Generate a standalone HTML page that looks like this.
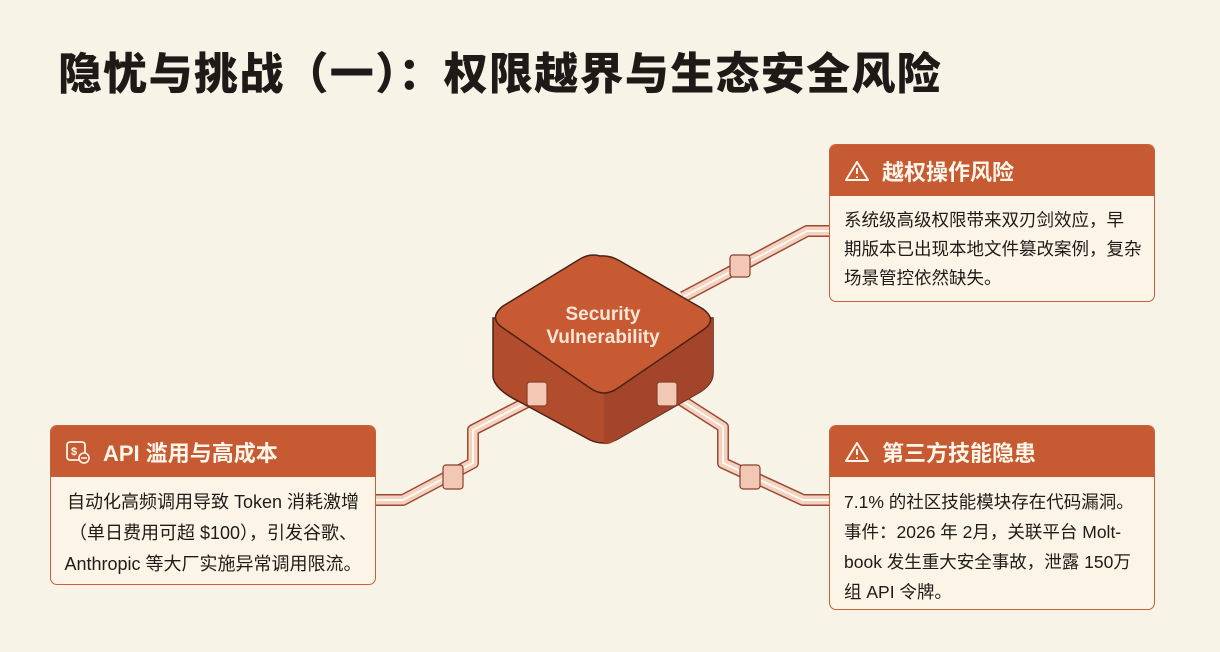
<!DOCTYPE html>
<html><head><meta charset="utf-8"><style>
body{margin:0;width:1220px;height:652px;background:#f8f3e7;overflow:hidden;font-family:"Liberation Sans","Noto Sans CJK SC",sans-serif;position:relative}
.t{position:absolute;left:58px;top:40px;font-size:44px;font-weight:900;color:#1d1a17;letter-spacing:1.3px;font-family:"Noto Sans CJK SC",sans-serif;line-height:60px;white-space:nowrap}
.box{position:absolute;border:1.5px solid #c9603a;border-radius:7px;background:#fbf4e7;overflow:hidden}
.hd{background:#c65a33;height:51px;color:#fff6ea;font-size:22px;font-weight:bold;display:flex;align-items:center;padding-left:14px;font-family:"Liberation Sans","Noto Sans CJK SC",sans-serif}
.hd svg{margin-right:12px}
.bd{font-size:17.5px;color:#1e1b18;padding:12px 0 0 14px;line-height:30px;font-family:"Liberation Sans","Noto Sans CJK SC",sans-serif;white-space:nowrap}
svg.m{position:absolute;left:0;top:0}
</style></head><body>
<div class="t">隐忧与挑战（一）：权限越界与生态安全风险</div>
<svg class="m" width="1220" height="652">
<g fill="none" stroke-linejoin="round">
<g stroke="#9c4a34" stroke-width="12">
<path d="M683 297 L807 231 L830 231"/>
<path d="M537 397 L473 430 L473 463 L403 500 L376 500"/>
<path d="M670 393 L723 427 L723 463 L803 500 L830 500"/>
</g>
<g stroke="#f4d2c0" stroke-width="9">
<path d="M683 297 L807 231 L830 231"/>
<path d="M537 397 L473 430 L473 463 L403 500 L376 500"/>
<path d="M670 393 L723 427 L723 463 L803 500 L830 500"/>
</g>
<g stroke="#fff8f0" stroke-width="2">
<path d="M683 297 L807 231 L830 231"/>
<path d="M537 397 L473 430 L473 463 L403 500 L376 500"/>
<path d="M670 393 L723 427 L723 463 L803 500 L830 500"/>
</g>
</g>
<path d="M493 318 L493 377 Q495 390 520 402 L590 440 Q603 446 616 440 L700 392 Q713 384 713 373 L713 318 Z" fill="#b14d2c" stroke="#4a2216" stroke-width="1.5"/>
<path d="M604 393 L604 444 Q610 445 616 440 L700 392 Q713 384 713 373 L713 318 Z" fill="#a4442a"/>
<path d="M600 256 Q590 253 580 259 L503 306 Q488 318 503 328 L590 388 Q604 398 618 388 L703 330 Q718 320 703 309 L620 261 Q610 255 600 256 Z" fill="#c85a33" stroke="#4a2216" stroke-width="1.5"/>
<text x="603" y="320" text-anchor="middle" font-size="19" font-weight="bold" fill="#fbe6d6" font-family="Liberation Sans,sans-serif">Security</text>
<text x="603" y="343" text-anchor="middle" font-size="19" font-weight="bold" fill="#fbe6d6" font-family="Liberation Sans,sans-serif">Vulnerability</text>
<g fill="#f2c8b4" stroke="#8a3f2c" stroke-width="1.2">
<rect x="527" y="382" width="20" height="24" rx="3"/>
<rect x="657" y="382" width="20" height="24" rx="3"/>
<rect x="730" y="255" width="20" height="22" rx="3"/>
<rect x="443" y="465" width="20" height="24" rx="3"/>
<rect x="740" y="465" width="20" height="24" rx="3"/>
</g>
</svg>
<div class="box" style="left:829px;top:144px;width:324px;height:156px">
<div class="hd"><svg width="26" height="22" viewBox="0 0 26 22"><path d="M13 2 L24 20 L2 20 Z" fill="none" stroke="#fff6ea" stroke-width="2" stroke-linejoin="round"/><path d="M13 8 V14 M13 16.5 V18" stroke="#fff6ea" stroke-width="2"/></svg>越权操作风险</div>
<div class="bd" style="line-height:29px;padding-top:10px">系统级高级权限带来双刃剑效应，早<br>期版本已出现本地文件篡改案例，复杂<br>场景管控依然缺失。</div>
</div>
<div class="box" style="left:50px;top:425px;width:324px;height:158px">
<div class="hd"><svg width="26" height="24" viewBox="0 0 26 24"><rect x="2" y="2" width="18" height="18" rx="3" fill="none" stroke="#fff6ea" stroke-width="1.8"/><text x="6" y="15" font-size="11" fill="#fff6ea" font-family="Liberation Sans">$</text><circle cx="19" cy="18" r="5" fill="#c65a33" stroke="#fff6ea" stroke-width="1.6"/><path d="M16 18 H22" stroke="#fff6ea" stroke-width="1.5"/></svg>API 滥用与高成本</div>
<div class="bd" style="text-align:center;padding-left:0;padding-top:10px;line-height:31px;font-size:18px">自动化高频调用导致 Token 消耗激增<br>（单日费用可超 $100），引发谷歌、<br>Anthropic 等大厂实施异常调用限流。</div>
</div>
<div class="box" style="left:829px;top:425px;width:324px;height:183px">
<div class="hd"><svg width="26" height="22" viewBox="0 0 26 22"><path d="M13 2 L24 20 L2 20 Z" fill="none" stroke="#fff6ea" stroke-width="2" stroke-linejoin="round"/><path d="M13 8 V14 M13 16.5 V18" stroke="#fff6ea" stroke-width="2"/></svg>第三方技能隐患</div>
<div class="bd" style="padding-top:10px">7.1% 的社区技能模块存在代码漏洞。<br>事件：2026 年 2月，关联平台 Molt-<br>book 发生重大安全事故，泄露 150万<br>组 API 令牌。</div>
</div>
</body></html>
